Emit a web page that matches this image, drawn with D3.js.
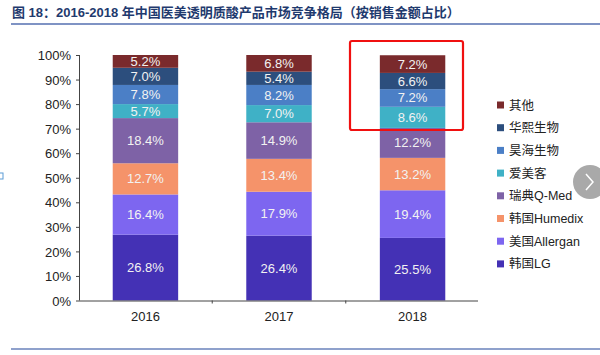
<!DOCTYPE html>
<html><head><meta charset="utf-8">
<script src="https://cdn.jsdelivr.net/npm/d3@7"></script>
<style>body{margin:0;background:#fff;}svg{display:block;}</style>
</head><body>
<script>
const years = ["2016","2017","2018"];
const series = ["韩国LG","美国Allergan","韩国Humedix","瑞典Q-Med","爱美客","昊海生物","华熙生物","其他"];
const values = {
  "韩国LG":      [26.8, 26.4, 25.5],
  "美国Allergan":[16.4, 17.9, 19.4],
  "韩国Humedix": [12.7, 13.4, 13.2],
  "瑞典Q-Med":   [18.4, 14.9, 12.2],
  "爱美客":      [5.7, 7.0, 8.6],
  "昊海生物":    [7.8, 8.2, 7.2],
  "华熙生物":    [7.0, 5.4, 6.6],
  "其他":        [5.2, 6.8, 7.2]
};
const yTicks = [0,10,20,30,40,50,60,70,80,90,100];
const colors = ["#4431b5","#7d66f0","#f5936a","#7e62a6","#3fb1c6","#4b7fc6","#2c4e7d","#7a2a2c"];
const title = "图 18：2016-2018  年中国医美透明质酸产品市场竞争格局（按销售金额占比）";

const W=600,H=355;
const svg=d3.select("body").append("svg").attr("width",W).attr("height",H);
const latin="Arial, 'Liberation Sans', sans-serif";
const cjk="Arial, 'Liberation Sans', 'Noto Sans CJK SC', sans-serif";

// title
svg.append("text").attr("x",12).attr("y",17).attr("font-family",cjk).attr("font-size",13)
  .attr("font-weight","bold").attr("fill","#1f3a6e").text(title);
svg.append("line").attr("x1",11).attr("x2",600).attr("y1",24).attr("y2",24)
  .attr("stroke","#7f93c4").attr("stroke-width",2);
svg.append("line").attr("x1",11).attr("x2",600).attr("y1",349).attr("y2",349)
  .attr("stroke","#8fa1cc").attr("stroke-width",2);

const x=d3.scaleBand().domain(years).range([80,478]).paddingInner(0.51).paddingOuter(0.245);
const y=d3.scaleLinear().domain([0,100]).range([300.5,55]);

// stack
const rows=years.map((yr,i)=>{const o={year:yr};series.forEach(s=>o[s]=values[s][i]);return o;});
const stack=d3.stack().keys(series)(rows);
const g=svg.append("g");
stack.forEach((layer,li)=>{
  g.selectAll(null).data(layer).enter().append("rect")
   .attr("x",d=>x(d.data.year)).attr("width",x.bandwidth())
   .attr("y",d=>y(d[1])).attr("height",d=>y(d[0])-y(d[1]))
   .attr("fill",colors[li]);
  g.selectAll(null).data(layer).enter().append("text")
   .attr("x",d=>x(d.data.year)+x.bandwidth()/2)
   .attr("y",d=>(y(d[0])+y(d[1]))/2+4.5)
   .attr("text-anchor","middle").attr("font-family",latin).attr("font-size",13)
   .attr("fill","#f2f2f2").text(d=>(d[1]-d[0]).toFixed(1)+"%");
});

// y axis
const ya=svg.append("g").attr("transform","translate(80,0)")
  .call(d3.axisLeft(y).tickValues(yTicks).tickSize(4).tickFormat(d=>d+"%"));
ya.select(".domain").attr("stroke","#444").attr("d","M-0.5,"+y(100)+"V"+y(0));
ya.selectAll(".tick line").attr("stroke","#444");
ya.selectAll(".tick text").attr("font-family",latin).attr("font-size",13).attr("fill","#222").attr("x",-9).attr("dy","0.36em");

// x axis
const xa=svg.append("g").attr("transform","translate(0,"+y(0)+")")
  .call(d3.axisBottom(x).tickSize(0).tickPadding(11));
xa.select(".domain").attr("stroke","#444").attr("d","M80,0.5H478");
xa.selectAll(".tick text").attr("font-family",latin).attr("font-size",13).attr("fill","#222");
// separators between categories
const seps=years.slice(1).map(yr=>x(yr)-x.step()*x.paddingInner()/2);
xa.selectAll(null).data(seps).enter().append("line")
  .attr("x1",d=>d).attr("x2",d=>d).attr("y1",0).attr("y2",3).attr("stroke","#444");

// red highlight box
svg.append("rect").attr("x",350).attr("y",41).attr("width",113).attr("height",89)
  .attr("fill","none").attr("stroke","#f01010").attr("stroke-width",2.2).attr("rx",2);

// legend
const legOrder=series.slice().reverse();
const lg=svg.append("g");
legOrder.forEach((s,i)=>{
  const cy=105+i*22.7;
  const ci=series.indexOf(s);
  lg.append("rect").attr("x",497).attr("y",cy-3.5).attr("width",7).attr("height",7).attr("fill",colors[ci]);
  lg.append("text").attr("x",509).attr("y",cy+4.5).attr("font-family",cjk).attr("font-size",12.5)
    .attr("fill","#222").text(s);
});

// gray nav circle
svg.append("circle").attr("cx",590).attr("cy",182).attr("r",17).attr("fill","#9a9a9a").attr("opacity",0.85);
svg.append("path").attr("d","M586,174L593,182L586,190").attr("fill","none").attr("stroke","#fff").attr("stroke-width",1.5);

// small icon at left edge
svg.append("rect").attr("x",-3).attr("y",173).attr("width",6).attr("height",6).attr("fill","none")
  .attr("stroke","#5b9bd5").attr("stroke-width",1);
</script>
</body></html>
